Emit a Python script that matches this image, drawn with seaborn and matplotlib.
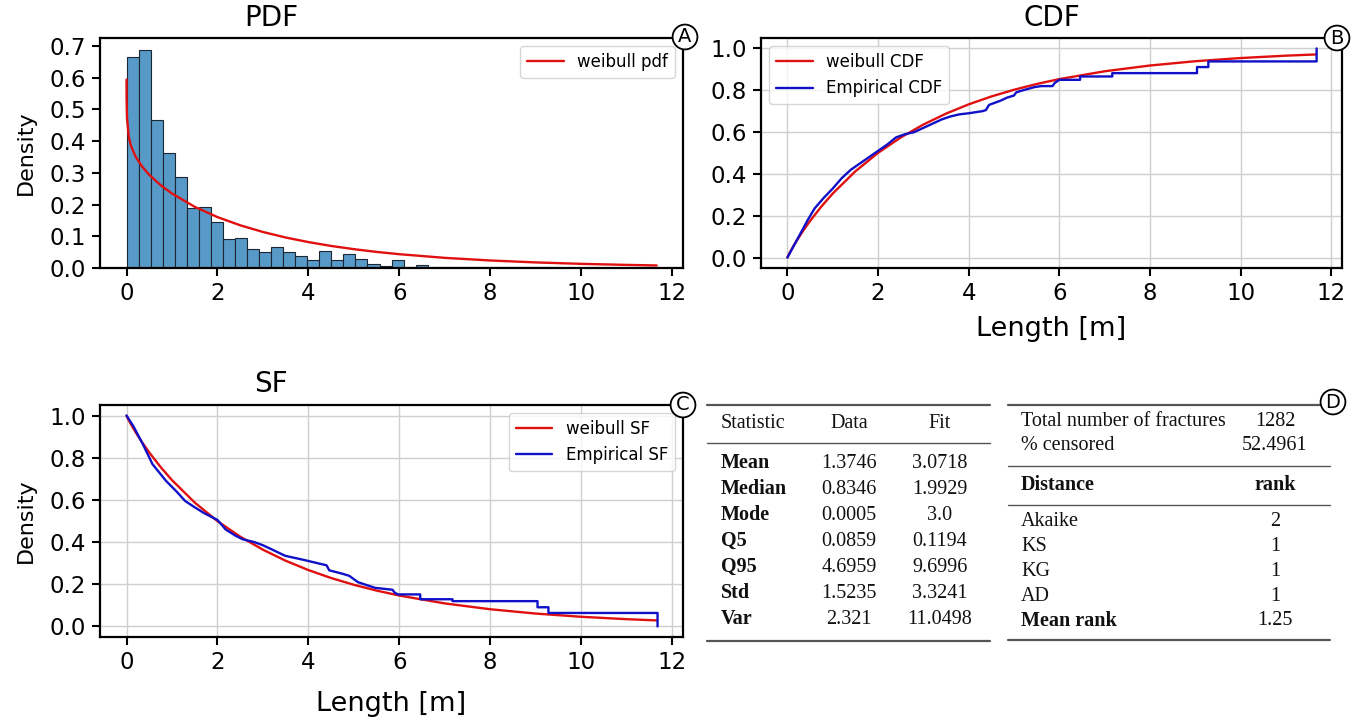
import numpy as np
import pandas as pd
import matplotlib
matplotlib.use("Agg")
import matplotlib.pyplot as plt
import seaborn as sns
from matplotlib.lines import Line2D

# ---------------- data ----------------
hist_max = 11.66
hist_density = [0.666, 0.688, 0.467, 0.362, 0.288, 0.189, 0.192, 0.144, 0.092, 0.095,
                0.059, 0.051, 0.065, 0.049, 0.037, 0.024, 0.054, 0.026, 0.043, 0.027,
                0.012, 0.005, 0.024, 0.003, 0.008, 0.003, 0.003, 0.004, 0.002, 0.002,
                0.002, 0.002, 0.002, 0.004, 0.004, 0.002, 0.0, 0.0, 0.0, 0.0,
                0.0, 0.0, 0.0, 0.003]

fit_x = [0.0005, 0.002, 0.01, 0.05, 0.1, 0.2, 0.35, 0.5, 0.75, 1.0, 1.5, 2.0, 2.5, 3.0,
         3.5, 4.0, 4.5, 5.0, 5.5, 6.0, 7.0, 8.0, 9.0, 10.0, 11.0, 11.66]
fit_pdf = [0.5938, 0.5353, 0.4733, 0.4128, 0.3842, 0.3511, 0.3185, 0.2938, 0.2612, 0.2348,
           0.1929, 0.1605, 0.1347, 0.1136, 0.0961, 0.0817, 0.0695, 0.0594, 0.0507, 0.0435,
           0.0320, 0.0237, 0.0176, 0.0131, 0.0098, 0.0081]
fit_cdf = [0.0003, 0.0012, 0.0051, 0.0226, 0.0424, 0.0790, 0.1291, 0.1750, 0.2442, 0.3061,
           0.4125, 0.5006, 0.5741, 0.6360, 0.6883, 0.7326, 0.7703, 0.8024, 0.8299, 0.8534,
           0.8908, 0.9184, 0.9389, 0.9541, 0.9655, 0.9713]
fit_sf = [0.9997, 0.9988, 0.9949, 0.9774, 0.9576, 0.9210, 0.8709, 0.8250, 0.7558, 0.6939,
          0.5875, 0.4994, 0.4259, 0.3640, 0.3117, 0.2674, 0.2297, 0.1976, 0.1701, 0.1466,
          0.1092, 0.0816, 0.0611, 0.0459, 0.0345, 0.0287]

# empirical (Kaplan-Meier style) curves, traced as polylines incl. vertical jumps
emp_cdf_x = [0.0, 0.15, 0.3, 0.45, 0.6, 0.8, 1.0, 1.2, 1.4, 1.6, 1.8, 2.0, 2.2, 2.4, 2.6,
             2.8, 3.0, 3.2, 3.4, 3.6, 3.8, 4.0, 4.3, 4.38, 4.45, 4.7, 4.85, 5.0, 5.05, 5.2,
             5.45, 5.6, 5.85, 5.9, 6.0, 6.46, 6.46, 7.17, 7.17, 9.04, 9.04, 9.29, 9.29,
             11.68, 11.68]
emp_cdf_y = [0.0, 0.06, 0.12, 0.18, 0.235, 0.285, 0.33, 0.38, 0.42, 0.45, 0.48, 0.51, 0.54,
             0.575, 0.59, 0.60, 0.62, 0.64, 0.66, 0.675, 0.685, 0.69, 0.70, 0.705, 0.73,
             0.75, 0.765, 0.775, 0.79, 0.80, 0.815, 0.82, 0.82, 0.835, 0.85, 0.85, 0.866,
             0.866, 0.882, 0.882, 0.911, 0.911, 0.938, 0.938, 1.0]
emp_sf_x = [0.0, 0.15, 0.36, 0.57, 0.87, 1.1, 1.29, 1.5, 1.71, 2.0, 2.18, 2.4, 2.56, 2.81,
            3.0, 3.15, 3.49, 3.7, 3.91, 4.24, 4.4, 4.46, 4.75, 4.9, 5.09, 5.3, 5.47, 5.85,
            5.9, 5.97, 6.46, 6.46, 7.17, 7.17, 9.04, 9.04, 9.28, 9.28, 11.68, 11.68]
emp_sf_y = [1.0, 0.95, 0.864, 0.77, 0.69, 0.64, 0.595, 0.565, 0.537, 0.505, 0.46, 0.43,
            0.413, 0.40, 0.385, 0.37, 0.335, 0.325, 0.315, 0.298, 0.29, 0.266, 0.25, 0.24,
            0.21, 0.195, 0.183, 0.174, 0.16, 0.152, 0.152, 0.129, 0.129, 0.120, 0.120,
            0.091, 0.091, 0.064, 0.064, 0.0]

stat_names = ["Mean", "Median", "Mode", "Q5", "Q95", "Std", "Var"]
stat_data = ["1.3746", "0.8346", "0.0005", "0.0859", "4.6959", "1.5235", "2.321"]
stat_fit = ["3.0718", "1.9929", "3.0", "0.1194", "9.6996", "3.3241", "11.0498"]

summary_names = ["Total number of fractures", "% censored"]
summary_values = ["1282", "52.4961"]
dist_names = ["Akaike", "KS", "KG", "AD", "Mean rank"]
dist_ranks = ["2", "1", "1", "1", "1.25"]

# ---------------- style ----------------
sns.set_style("ticks")
plt.rcParams['font.family'] = ['DejaVu Sans']
plt.rcParams.update({"text.color": "black", "axes.labelcolor": "black",
                     "xtick.color": "black", "ytick.color": "black"})
W, H = 1361, 720
fig = plt.figure(figsize=(W / 100, H / 100), dpi=100)


def fx(x):
    return x / W


def fy(y):
    return 1 - y / H


def axes_px(left, top, right, bottom):
    return fig.add_axes([fx(left), fy(bottom), (right - left) / W, (bottom - top) / H])


ax1 = axes_px(100, 38, 683, 268)
ax2 = axes_px(761, 38, 1342, 268)
ax3 = axes_px(100, 405, 683, 637)

RED = "#e01010"
BLUE = "#1010c8"
TICK_FS = 16.5
LW = 1.7

for ax in (ax1, ax2, ax3):
    for s in ax.spines.values():
        s.set_linewidth(1.6)
        s.set_color("black")
    ax.tick_params(labelsize=TICK_FS, length=6, width=1.5, color="black", pad=4)

# PDF
n_bins = len(hist_density)
bin_w = hist_max / n_bins
hist_df = pd.DataFrame({"length": [(i + 0.5) * bin_w for i in range(n_bins)],
                        "density": hist_density})
sns.histplot(data=hist_df, x="length", weights="density", bins=n_bins,
             binrange=(0, hist_max), ax=ax1,
             color="#5799C7", alpha=1.0, edgecolor="#1d2733", linewidth=0.8, stat="count")
sns.lineplot(x=fit_x, y=fit_pdf, ax=ax1, color=RED, lw=LW, label="weibull pdf")
ax1.set_title("PDF", fontsize=20, pad=9, x=0.293)
ax1.set_ylabel("Density", fontsize=16, labelpad=10)
ax1.set_xlabel("")
ax1.set_yticks(np.arange(0, 0.71, 0.1))
ax1.set_xticks(range(0, 13, 2))
ax1.set_ylim(0, 0.725)
ax1.legend(loc="upper right", fontsize=12, handlelength=2.2)

# CDF
sns.lineplot(x=fit_x, y=fit_cdf, ax=ax2, color=RED, lw=LW, label="weibull CDF")
sns.lineplot(x=emp_cdf_x, y=emp_cdf_y, ax=ax2, color=BLUE, lw=LW, label="Empirical CDF",
             estimator=None, sort=False)
ax2.set_title("CDF", fontsize=20, pad=9)
ax2.set_xlabel("Length [m]", fontsize=19.5, labelpad=8)
ax2.set_ylabel("")
ax2.set_xticks(range(0, 13, 2))
ax2.set_yticks(np.arange(0, 1.01, 0.2))
ax2.grid(True, color="#cfcfcf", lw=1.0)
ax2.legend(loc="upper left", fontsize=12, handlelength=2.2)

# SF
sns.lineplot(x=fit_x, y=fit_sf, ax=ax3, color=RED, lw=LW, label="weibull SF")
sns.lineplot(x=emp_sf_x, y=emp_sf_y, ax=ax3, color=BLUE, lw=LW, label="Empirical SF",
             estimator=None, sort=False)
ax3.set_title("SF", fontsize=20, pad=9, x=0.293)
ax3.set_xlabel("Length [m]", fontsize=19.5, labelpad=12)
ax3.set_ylabel("Density", fontsize=16, labelpad=10)
ax3.set_xticks(range(0, 13, 2))
ax3.set_yticks(np.arange(0, 1.01, 0.2))
ax3.grid(True, color="#cfcfcf", lw=1.0)
ax3.legend(loc="upper right", fontsize=12, handlelength=2.2)

for ax in (ax1, ax2, ax3):
    ax.set_xlim(-0.583, 12.24)
for ax in (ax2, ax3):
    ax.set_ylim(-0.05, 1.05)


# circled letters
def circ(x, y, t):
    fig.text(fx(x), fy(y), t, fontsize=14, ha="center", va="center",
             bbox=dict(boxstyle="circle,pad=0.15", fc="white", ec="black", lw=1.3))


circ(685, 37, "A")
circ(1337, 38, "B")
circ(683, 405, "C")
circ(1333, 402, "D")

# tables
SERIF = "Liberation Serif"
TFS = 14.5
RULE = "#555555"


def hline(x0, x1, y, lw=1.5):
    fig.add_artist(Line2D([fx(x0), fx(x1)], [fy(y), fy(y)], color=RULE, lw=lw))


def ttext(x, y, s, ha="left", bold=False):
    fig.text(fx(x), fy(y), s, fontsize=TFS, family=SERIF, ha=ha, va="center",
             fontweight="bold" if bold else "normal", color="#111111")


hline(707, 990, 405, 1.6)
ttext(721, 424, "Statistic")
ttext(849, 424, "Data", ha="center")
ttext(940, 424, "Fit", ha="center")
hline(707, 990, 443, 1.0)
for i, (n, d, f) in enumerate(zip(stat_names, stat_data, stat_fit)):
    y = 463 + 26 * i
    ttext(721, y, n, bold=True)
    ttext(849, y, d, ha="center")
    ttext(940, y, f, ha="center")
hline(707, 990, 641, 1.6)

hline(1008, 1322, 405, 1.6)
for i, (n, v) in enumerate(zip(summary_names, summary_values)):
    y = 422 + 24 * i
    ttext(1021, y, n)
    ttext(1275, y, v, ha="center")
hline(1008, 1330, 466, 1.0)
ttext(1021, 485, "Distance", bold=True)
ttext(1275, 485, "rank", ha="center", bold=True)
hline(1008, 1330, 505, 1.0)
for i, (n, r) in enumerate(zip(dist_names, dist_ranks)):
    y = 522 + 24.7 * i
    ttext(1021, y, n, bold=(n == "Mean rank"))
    ttext(1275, y, r, ha="center")
hline(1008, 1330, 640, 1.6)

fig.savefig("out.png", dpi=100, facecolor="white")
